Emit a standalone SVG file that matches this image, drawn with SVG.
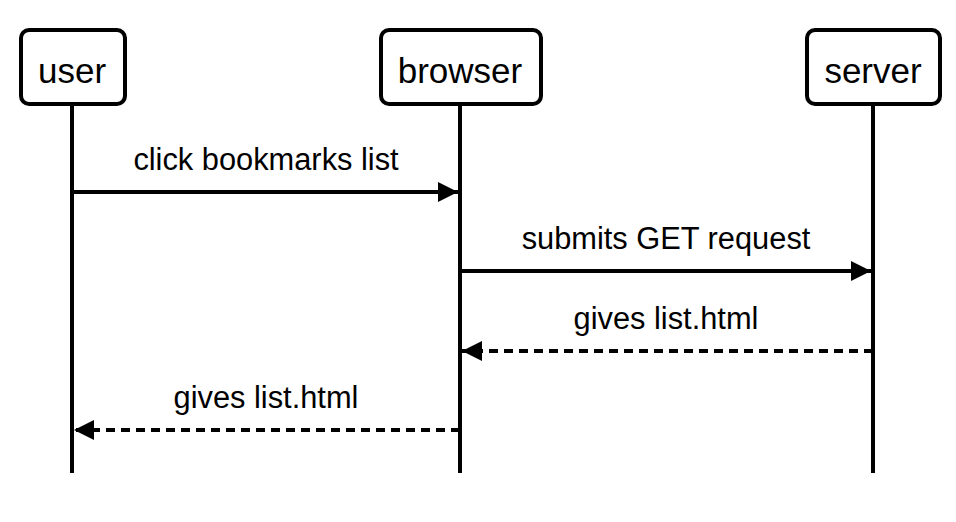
<svg xmlns="http://www.w3.org/2000/svg" width="956" height="522" viewBox="0 0 956 522">
<style>
.box{fill:#fff;stroke:#000;stroke-width:4}
.life{stroke:#000;stroke-width:4}
.msg{stroke:#000;stroke-width:4;fill:none}
.dash{stroke-dasharray:9 6}
.t{font-family:"Liberation Sans",Arial,sans-serif;fill:#000;text-anchor:middle}
.nt{font-size:35px}
.lt{font-size:30.8px}
</style>
<defs>
<marker id="ah" viewBox="0 0 10 10" refX="10" refY="5" markerWidth="5" markerHeight="5" markerUnits="strokeWidth" orient="auto">
<path d="M0,0 L10,5 L0,10 Z" fill="#000"/>
</marker>
</defs>
<g id="lifelines">
<line class="life" x1="72" y1="104" x2="72" y2="473"/>
<line class="life" x1="460" y1="104" x2="460" y2="473"/>
<line class="life" x1="873" y1="104" x2="873" y2="473"/>
</g>
<g id="user">
<rect class="box" x="21" y="30" width="104" height="74" rx="8"/>
<text class="t nt" x="72" y="83">user</text>
</g>
<g id="browser">
<rect class="box" x="381" y="30" width="160" height="74" rx="8"/>
<text class="t nt" x="460" y="83">browser</text>
</g>
<g id="server">
<rect class="box" x="807" y="30" width="133" height="74" rx="8"/>
<text class="t nt" x="873" y="83">server</text>
</g>
<g id="connectors">
<line class="msg" x1="72" y1="192" x2="458" y2="192" marker-end="url(#ah)"/>
<text class="t lt" x="266" y="170">click bookmarks list</text>
<line class="msg" x1="460" y1="271" x2="871" y2="271" marker-end="url(#ah)"/>
<text class="t lt" x="666" y="249">submits GET request</text>
<line class="msg dash" x1="873" y1="351" x2="462" y2="351" marker-end="url(#ah)"/>
<text class="t lt" x="666" y="329">gives list.html</text>
<line class="msg dash" x1="460" y1="430" x2="74" y2="430" marker-end="url(#ah)"/>
<text class="t lt" x="266" y="408">gives list.html</text>
</g>
</svg>
